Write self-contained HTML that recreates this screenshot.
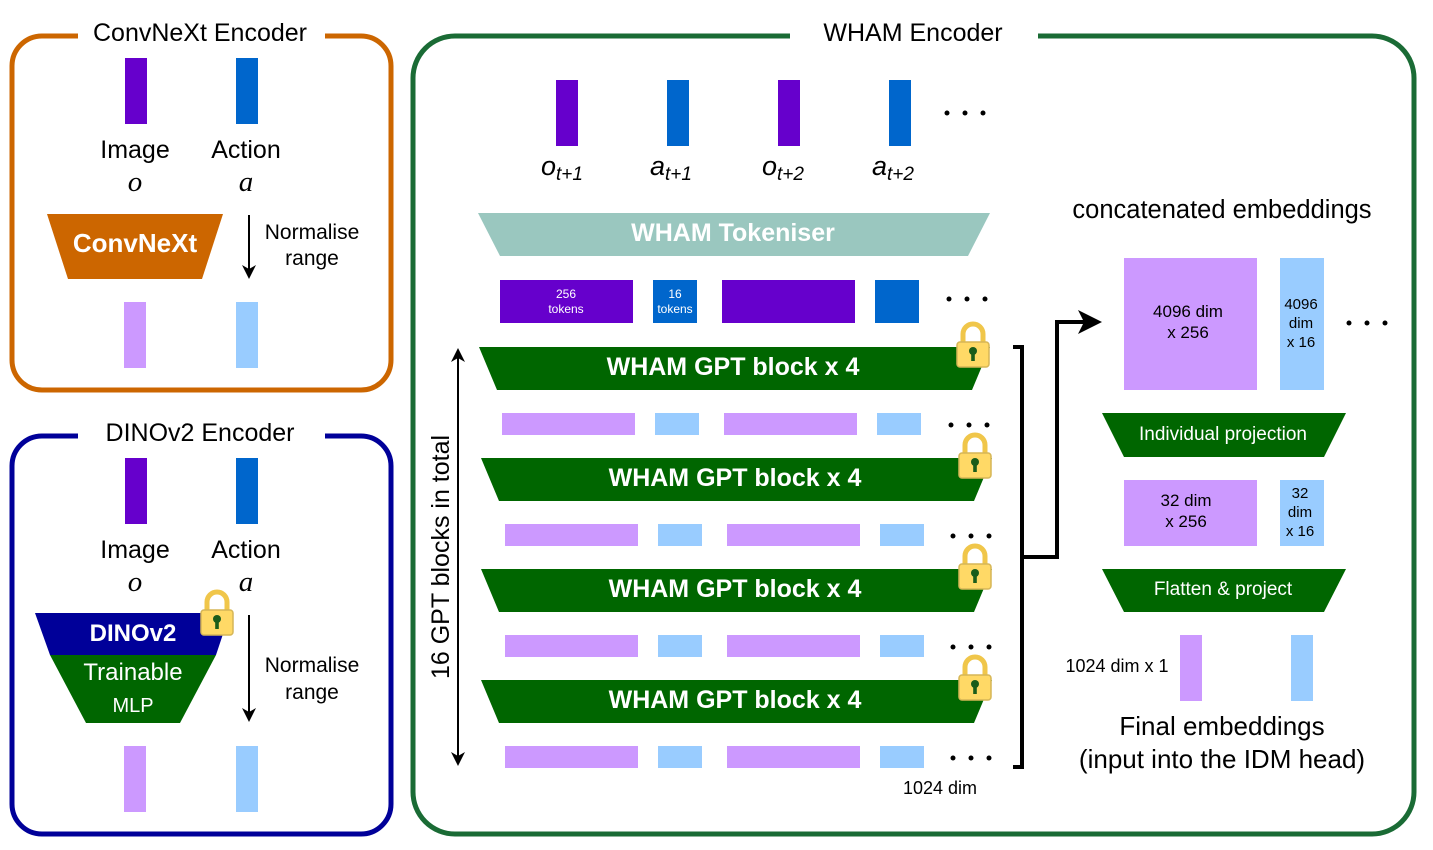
<!DOCTYPE html>
<html><head><meta charset="utf-8"><style>body{margin:0;background:#fff}svg{display:block}text{font-family:"Liberation Sans",sans-serif}</style></head><body>
<svg width="1433" height="850" viewBox="0 0 1433 850" xmlns="http://www.w3.org/2000/svg">
<defs>
<marker id="ah2" markerWidth="24" markerHeight="24" refX="20" refY="12" orient="auto" markerUnits="userSpaceOnUse"><path d="M0,0 L24,12 L0,24 L6,12z" fill="#000"/></marker>
<marker id="ahs" markerWidth="14" markerHeight="14" refX="12" refY="7" orient="auto-start-reverse" markerUnits="userSpaceOnUse"><path d="M0,0 L14,7 L0,14 L4,7z" fill="#000"/></marker>
<g id="lock"><path d="M-10,0 v-8 a10,10 0 0 1 20,0 v8" fill="none" stroke="#f0c64a" stroke-width="5"/><rect x="-16" y="0" width="32" height="25" rx="3" fill="#ffd966" stroke="#d6b656" stroke-width="1.5"/><circle cx="0" cy="9" r="4" fill="#1a5c1a"/><rect x="-1.8" y="9" width="3.6" height="10" fill="#1a5c1a"/></g>
</defs>

<!-- ConvNeXt -->
<path d="M78,36 H42 a30,30 0 0 0 -30,30 V360 a30,30 0 0 0 30,30 H361 a30,30 0 0 0 30,-30 V66 a30,30 0 0 0 -30,-30 H325" fill="none" stroke="#CC6600" stroke-width="5"/>
<text x="200" y="41" font-size="25" text-anchor="middle">ConvNeXt Encoder</text>
<rect x="125" y="58" width="22" height="66" fill="#6600CC"/><rect x="236" y="58" width="22" height="66" fill="#0066CC"/>
<text x="135" y="158" font-size="25" text-anchor="middle">Image</text><text x="246" y="158" font-size="25" text-anchor="middle">Action</text>
<text x="135" y="191" font-size="29" font-style="italic" text-anchor="middle" style="font-family:'Liberation Serif',serif">o</text>
<text x="246" y="191" font-size="29" font-style="italic" text-anchor="middle" style="font-family:'Liberation Serif',serif">a</text>
<path d="M47,214 H223 L202,279 H68z" fill="#CC6600"/>
<text x="135" y="252" font-size="26" font-weight="bold" fill="#fff" text-anchor="middle">ConvNeXt</text>
<line x1="249" y1="215" x2="249" y2="277" stroke="#000" stroke-width="2" marker-end="url(#ahs)"/>
<text x="312" y="239" font-size="21" text-anchor="middle">Normalise</text><text x="312" y="265" font-size="21" text-anchor="middle">range</text>
<rect x="124" y="302" width="22" height="66" fill="#CC99FF"/><rect x="236" y="302" width="22" height="66" fill="#99CCFF"/>

<!-- DINOv2 -->
<path d="M78,436 H42 a30,30 0 0 0 -30,30 V804 a30,30 0 0 0 30,30 H361 a30,30 0 0 0 30,-30 V466 a30,30 0 0 0 -30,-30 H325" fill="none" stroke="#000099" stroke-width="5"/>
<text x="200" y="441" font-size="25" text-anchor="middle">DINOv2 Encoder</text>
<rect x="125" y="458" width="22" height="66" fill="#6600CC"/><rect x="236" y="458" width="22" height="66" fill="#0066CC"/>
<text x="135" y="558" font-size="25" text-anchor="middle">Image</text><text x="246" y="558" font-size="25" text-anchor="middle">Action</text>
<text x="135" y="591" font-size="29" font-style="italic" text-anchor="middle" style="font-family:'Liberation Serif',serif">o</text>
<text x="246" y="591" font-size="29" font-style="italic" text-anchor="middle" style="font-family:'Liberation Serif',serif">a</text>
<path d="M35,613 H230 L216,655 H50z" fill="#000099"/>
<path d="M50,655 H216 L180,723 H86z" fill="#006600"/>
<text x="133" y="641" font-size="24" font-weight="bold" fill="#fff" text-anchor="middle">DINOv2</text>
<text x="133" y="680" font-size="24" fill="#fff" text-anchor="middle">Trainable</text>
<text x="133" y="712" font-size="20" fill="#fff" text-anchor="middle">MLP</text>
<use href="#lock" x="217" y="610"/>
<line x1="249" y1="615" x2="249" y2="720" stroke="#000" stroke-width="2" marker-end="url(#ahs)"/>
<text x="312" y="672" font-size="21" text-anchor="middle">Normalise</text><text x="312" y="699" font-size="21" text-anchor="middle">range</text>
<rect x="124" y="746" width="22" height="66" fill="#CC99FF"/><rect x="236" y="746" width="22" height="66" fill="#99CCFF"/>

<!-- WHAM -->
<path d="M790,36 H455 a42,42 0 0 0 -42,42 V792 a42,42 0 0 0 42,42 H1372 a42,42 0 0 0 42,-42 V78 a42,42 0 0 0 -42,-42 H1038" fill="none" stroke="#1a6b35" stroke-width="5"/>
<text x="913" y="41" font-size="25" text-anchor="middle">WHAM Encoder</text>
<rect x="556" y="80" width="22" height="66" fill="#6600CC"/><rect x="667" y="80" width="22" height="66" fill="#0066CC"/>
<rect x="778" y="80" width="22" height="66" fill="#6600CC"/><rect x="889" y="80" width="22" height="66" fill="#0066CC"/>
<g fill="#000"><circle cx="947" cy="113" r="2.5"/><circle cx="965" cy="113" r="2.5"/><circle cx="983" cy="113" r="2.5"/></g>
<g font-size="27" font-style="italic" style="font-family:'Liberation Serif',serif">
<text x="541" y="175">o<tspan font-size="19" dy="5">t+1</tspan></text>
<text x="650" y="175">a<tspan font-size="19" dy="5">t+1</tspan></text>
<text x="762" y="175">o<tspan font-size="19" dy="5">t+2</tspan></text>
<text x="872" y="175">a<tspan font-size="19" dy="5">t+2</tspan></text>
</g>
<path d="M478,213 H990 L968,256 H500z" fill="#9AC7BF"/>
<text x="733" y="241" font-size="25" font-weight="bold" fill="#fff" text-anchor="middle">WHAM Tokeniser</text>
<rect x="500" y="280" width="133" height="43" fill="#6600CC"/><rect x="653" y="280" width="44" height="43" fill="#0066CC"/>
<rect x="722" y="280" width="133" height="43" fill="#6600CC"/><rect x="875" y="280" width="44" height="43" fill="#0066CC"/>
<text x="566" y="298" font-size="12" fill="#fff" text-anchor="middle">256</text><text x="566" y="313" font-size="12" fill="#fff" text-anchor="middle">tokens</text>
<text x="675" y="298" font-size="12" fill="#fff" text-anchor="middle">16</text><text x="675" y="313" font-size="12" fill="#fff" text-anchor="middle">tokens</text>
<g fill="#000"><circle cx="949" cy="299" r="2.5"/><circle cx="967" cy="299" r="2.5"/><circle cx="985" cy="299" r="2.5"/>
<circle cx="951" cy="425" r="2.5"/><circle cx="969" cy="425" r="2.5"/><circle cx="987" cy="425" r="2.5"/>
<circle cx="953" cy="536" r="2.5"/><circle cx="971" cy="536" r="2.5"/><circle cx="989" cy="536" r="2.5"/>
<circle cx="953" cy="647" r="2.5"/><circle cx="971" cy="647" r="2.5"/><circle cx="989" cy="647" r="2.5"/>
<circle cx="953" cy="758" r="2.5"/><circle cx="971" cy="758" r="2.5"/><circle cx="989" cy="758" r="2.5"/></g>

<g font-size="25" font-weight="bold" fill="#fff" text-anchor="middle">
<path d="M479,347 H990 L972,390 H497z" fill="#006600"/><text x="733" y="375">WHAM GPT block x 4</text>
<path d="M481,458 H992 L974,501 H499z" fill="#006600"/><text x="735" y="486">WHAM GPT block x 4</text>
<path d="M481,569 H992 L974,612 H499z" fill="#006600"/><text x="735" y="597">WHAM GPT block x 4</text>
<path d="M481,680 H992 L974,723 H499z" fill="#006600"/><text x="735" y="708">WHAM GPT block x 4</text>
</g>
<use href="#lock" x="973" y="342"/><use href="#lock" x="975" y="453"/><use href="#lock" x="975" y="564"/><use href="#lock" x="975" y="675"/>
<g fill="#CC99FF"><rect x="502" y="413" width="133" height="22"/><rect x="724" y="413" width="133" height="22"/>
<rect x="505" y="524" width="133" height="22"/><rect x="727" y="524" width="133" height="22"/>
<rect x="505" y="635" width="133" height="22"/><rect x="727" y="635" width="133" height="22"/>
<rect x="505" y="746" width="133" height="22"/><rect x="727" y="746" width="133" height="22"/></g>
<g fill="#99CCFF"><rect x="655" y="413" width="44" height="22"/><rect x="877" y="413" width="44" height="22"/>
<rect x="658" y="524" width="44" height="22"/><rect x="880" y="524" width="44" height="22"/>
<rect x="658" y="635" width="44" height="22"/><rect x="880" y="635" width="44" height="22"/>
<rect x="658" y="746" width="44" height="22"/><rect x="880" y="746" width="44" height="22"/></g>
<line x1="458" y1="350" x2="458" y2="764" stroke="#000" stroke-width="2" marker-start="url(#ahs)" marker-end="url(#ahs)"/>
<text transform="translate(449,557) rotate(-90)" font-size="25" text-anchor="middle">16 GPT blocks in total</text>
<path d="M1013,347 H1022 V767 H1013" fill="none" stroke="#000" stroke-width="4"/>
<path d="M1022,557 H1057 V322 H1098" fill="none" stroke="#000" stroke-width="4" marker-end="url(#ah2)"/>
<text x="940" y="794" font-size="18" text-anchor="middle">1024 dim</text>

<text x="1222" y="218" font-size="25.5" text-anchor="middle">concatenated embeddings</text>
<rect x="1124" y="258" width="133" height="132" fill="#CC99FF"/><rect x="1280" y="258" width="44" height="132" fill="#99CCFF"/>
<text x="1188" y="317" font-size="17" text-anchor="middle">4096 dim</text><text x="1188" y="338" font-size="17" text-anchor="middle">x 256</text>
<text x="1301" y="309" font-size="15" text-anchor="middle">4096</text><text x="1301" y="328" font-size="15" text-anchor="middle">dim</text><text x="1301" y="347" font-size="15" text-anchor="middle">x 16</text>
<g fill="#000"><circle cx="1349" cy="323" r="2.5"/><circle cx="1367" cy="323" r="2.5"/><circle cx="1385" cy="323" r="2.5"/></g>
<path d="M1102,413 H1346 L1324,457 H1124z" fill="#006600"/>
<text x="1223" y="440" font-size="19" fill="#fff" text-anchor="middle">Individual projection</text>
<rect x="1124" y="480" width="133" height="66" fill="#CC99FF"/><rect x="1280" y="480" width="44" height="66" fill="#99CCFF"/>
<text x="1186" y="506" font-size="17" text-anchor="middle">32 dim</text><text x="1186" y="527" font-size="17" text-anchor="middle">x 256</text>
<text x="1300" y="498" font-size="15" text-anchor="middle">32</text><text x="1300" y="517" font-size="15" text-anchor="middle">dim</text><text x="1300" y="536" font-size="15" text-anchor="middle">x 16</text>
<path d="M1102,569 H1346 L1324,612 H1124z" fill="#006600"/>
<text x="1223" y="595" font-size="19" fill="#fff" text-anchor="middle">Flatten &amp; project</text>
<rect x="1180" y="635" width="22" height="66" fill="#CC99FF"/><rect x="1291" y="635" width="22" height="66" fill="#99CCFF"/>
<text x="1117" y="672" font-size="18" text-anchor="middle">1024 dim x 1</text>
<text x="1222" y="735" font-size="26" text-anchor="middle">Final embeddings</text>
<text x="1222" y="768" font-size="26" text-anchor="middle">(input into the IDM head)</text>
</svg>
</body></html>
